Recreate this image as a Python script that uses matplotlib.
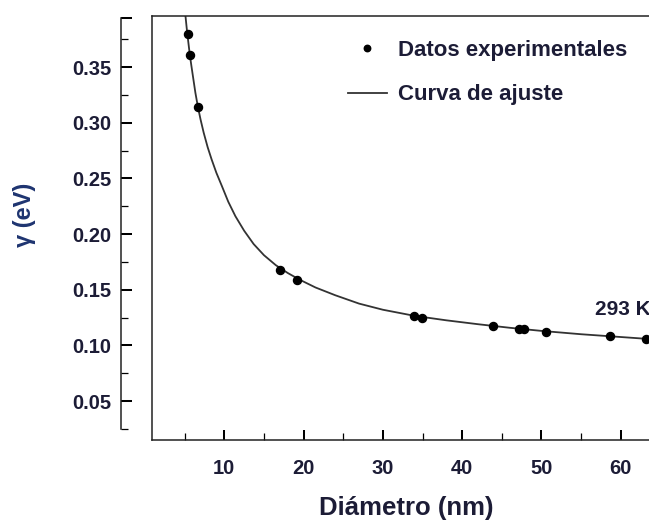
import numpy as np
import matplotlib
matplotlib.use("Agg")
import matplotlib.pyplot as plt
from matplotlib.ticker import FixedLocator

plt.rcParams['font.family'] = ['Liberation Sans', 'DejaVu Sans']

# datos
diam = [5.4, 5.65, 6.65, 17.0, 19.2, 33.9, 34.9, 43.9, 47.2, 47.8, 50.6, 58.6, 63.2]
gamma = [0.380, 0.361, 0.314, 0.168, 0.159, 0.126, 0.125, 0.117, 0.115, 0.115, 0.112, 0.108, 0.106]

# curva de ajuste
fit_d = [5.1, 5.3, 5.5, 5.65, 5.85, 6.1, 6.35, 6.65, 7.0, 7.4, 7.9, 8.4, 9.0, 9.7,
         10.5, 11.4, 12.5, 13.7, 15.0, 16.5, 18.0, 19.5, 21.5, 24.0, 27.0, 30.0,
         34.0, 38.0, 42.0, 46.0, 50.0, 55.0, 60.0, 65.0, 70.0]
fit_g = [0.396, 0.382, 0.370, 0.361, 0.351, 0.339, 0.327, 0.315, 0.303, 0.291, 0.278,
         0.267, 0.255, 0.243, 0.229, 0.216, 0.203, 0.191, 0.181, 0.172, 0.165, 0.159,
         0.152, 0.145, 0.1375, 0.132, 0.1265, 0.1225, 0.119, 0.1158, 0.113, 0.110,
         0.1075, 0.105, 0.103]

x_major = [10, 20, 30, 40, 50, 60]
x_minor = [5, 15, 25, 35, 45, 55, 65]
y_major = [0.05, 0.10, 0.15, 0.20, 0.25, 0.30, 0.35]
y_labels = ['0.05', '0.10', '0.15', '0.20', '0.25', '0.30', '0.35']
y_minor = [0.025, 0.075, 0.125, 0.175, 0.225, 0.275, 0.325, 0.375]

txt_col = '#1c1c36'
W, H = 649, 521
fig = plt.figure(figsize=(W / 100, H / 100), dpi=100)
ax = fig.add_axes([152 / W, (H - 440) / H, 548 / W, (440 - 15.7) / H])

ax.plot(fit_d, fit_g, color='#333333', lw=1.3, label='Curva de ajuste', zorder=2)
ax.plot(diam, gamma, 'o', color='black', ms=5.8, label='Datos experimentales', zorder=3)

ax.set_xlim(0.88, 70)
ax.set_ylim(0.0150, 0.3961)

for s in ['left', 'top', 'bottom', 'right']:
    ax.spines[s].set_linewidth(1.1)
    ax.spines[s].set_color('#222222')

ax.set_xticks(x_major)
ax.xaxis.set_minor_locator(FixedLocator(x_minor))
ax.tick_params(axis='x', which='major', direction='in', length=7.2, width=1.45,
               pad=14, labelsize=14.5, labelcolor=txt_col)
ax.tick_params(axis='x', which='minor', direction='in', length=4.8, width=0.9)
for t in ax.get_xticklabels():
    t.set_fontweight('bold')
ax.tick_params(axis='y', which='both', left=False, labelleft=False)

# eje y separado del recuadro
sec = ax.secondary_yaxis(-31 / 548)
sec.set_yticks(y_major + [0.394])
sec.set_yticklabels(y_labels + [''])
sec.yaxis.set_minor_locator(FixedLocator(y_minor))
sec.tick_params(which='major', direction='in', length=7.9, width=1.45, pad=7,
                labelsize=14.5, labelcolor=txt_col)
sec.tick_params(which='minor', direction='in', length=5, width=0.9)
sec.spines['left'].set_bounds(0.025, 0.394)
sec.spines['left'].set_linewidth(1.1)
sec.spines['left'].set_color('#222222')
for t in sec.get_yticklabels():
    t.set_fontweight('bold')

h, l = ax.get_legend_handles_labels()
leg = ax.legend(h[::-1], l[::-1], loc='upper left', bbox_to_anchor=(348 / W, 1 - 40 / H),
                bbox_transform=fig.transFigure, frameon=False, fontsize=16,
                handlelength=1.75, handletextpad=0.5, borderpad=0, borderaxespad=0,
                labelspacing=1.05, markerscale=0.8)
for t in leg.get_texts():
    t.set_fontweight('bold')
    t.set_color(txt_col)

ax.text(56.8, 0.1318, '293 K', ha='left', va='center', fontsize=15,
        fontweight='bold', color=txt_col)

fig.text(406.7 / W, 1 - 508 / H, 'Diámetro (nm)', ha='center', va='center',
         fontsize=18.5, fontweight='bold', color=txt_col)
fig.text(24 / W, 1 - 215 / H, 'γ (eV)', ha='center', va='center', rotation=90,
         fontsize=17, fontweight='bold', color='#1e3470')

fig.savefig('out.png', dpi=100)
